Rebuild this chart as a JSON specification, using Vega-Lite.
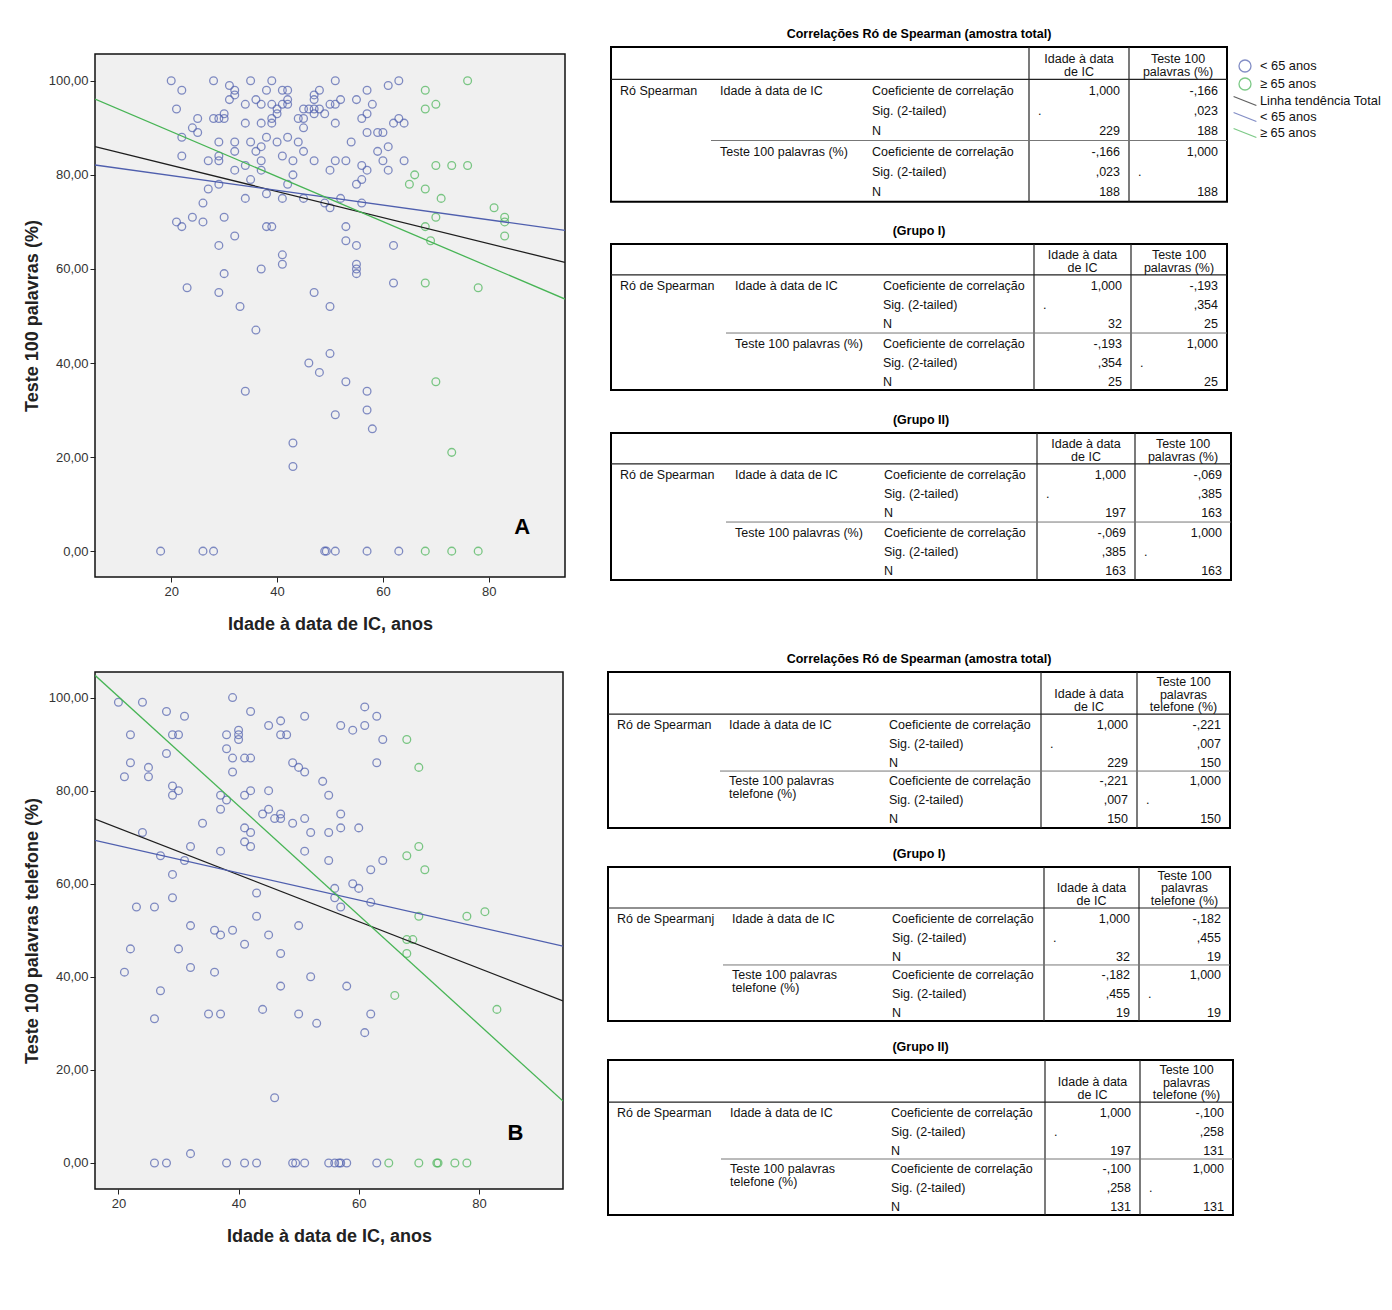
{
  "$schema": "https://vega.github.io/schema/vega-lite/v6.json",
  "background": "white",
  "padding": {"left": 22, "top": 13, "right": 5, "bottom": 5},
  "config": {
    "font": "Liberation Sans",
    "view": {"stroke": null},
    "title": {"font": "Liberation Sans", "color": "#000"},
    "axis": {"grid": false, "domain": false, "tickColor": "#222", "tickSize": 5, "labelFontSize": 13, "labelColor": "#333", "labelFont": "Liberation Sans", "titleFont": "Liberation Sans", "titleFontSize": 18, "titleFontWeight": "bold", "titleColor": "#222"}
  },
  "datasets": {
    "ptsA": [
      {"a":20,"s":100,"g":"lt65"},{"a":28,"s":100,"g":"lt65"},{"a":35,"s":100,"g":"lt65"},{"a":39,"s":100,"g":"lt65"},{"a":51,"s":100,"g":"lt65"},{"a":63,"s":100,"g":"lt65"},
      {"a":31,"s":99,"g":"lt65"},{"a":61,"s":99,"g":"lt65"},
      {"a":22,"s":98,"g":"lt65"},{"a":32,"s":98,"g":"lt65"},{"a":38,"s":98,"g":"lt65"},{"a":41,"s":98,"g":"lt65"},{"a":42,"s":98,"g":"lt65"},{"a":48,"s":98,"g":"lt65"},{"a":57,"s":98,"g":"lt65"},
      {"a":32,"s":97,"g":"lt65"},{"a":47,"s":97,"g":"lt65"},
      {"a":31,"s":96,"g":"lt65"},{"a":36,"s":96,"g":"lt65"},{"a":42,"s":96,"g":"lt65"},{"a":47,"s":96,"g":"lt65"},{"a":52,"s":96,"g":"lt65"},{"a":55,"s":96,"g":"lt65"},
      {"a":34,"s":95,"g":"lt65"},{"a":37,"s":95,"g":"lt65"},{"a":39,"s":95,"g":"lt65"},{"a":41,"s":95,"g":"lt65"},{"a":42,"s":95,"g":"lt65"},{"a":50,"s":95,"g":"lt65"},{"a":51,"s":95,"g":"lt65"},{"a":58,"s":95,"g":"lt65"},
      {"a":21,"s":94,"g":"lt65"},{"a":40,"s":94,"g":"lt65"},{"a":45,"s":94,"g":"lt65"},{"a":46,"s":94,"g":"lt65"},{"a":47,"s":94,"g":"lt65"},{"a":48,"s":94,"g":"lt65"},
      {"a":30,"s":93,"g":"lt65"},{"a":40,"s":93,"g":"lt65"},{"a":47,"s":93,"g":"lt65"},{"a":49,"s":93,"g":"lt65"},{"a":57,"s":93,"g":"lt65"},
      {"a":25,"s":92,"g":"lt65"},{"a":28,"s":92,"g":"lt65"},{"a":29,"s":92,"g":"lt65"},{"a":30,"s":92,"g":"lt65"},{"a":39,"s":92,"g":"lt65"},{"a":44,"s":92,"g":"lt65"},{"a":45,"s":92,"g":"lt65"},{"a":56,"s":92,"g":"lt65"},{"a":63,"s":92,"g":"lt65"},
      {"a":34,"s":91,"g":"lt65"},{"a":37,"s":91,"g":"lt65"},{"a":39,"s":91,"g":"lt65"},{"a":51,"s":91,"g":"lt65"},{"a":62,"s":91,"g":"lt65"},{"a":64,"s":91,"g":"lt65"},
      {"a":24,"s":90,"g":"lt65"},{"a":45,"s":90,"g":"lt65"},
      {"a":25,"s":89,"g":"lt65"},{"a":57,"s":89,"g":"lt65"},{"a":59,"s":89,"g":"lt65"},{"a":60,"s":89,"g":"lt65"},
      {"a":22,"s":88,"g":"lt65"},{"a":38,"s":88,"g":"lt65"},{"a":42,"s":88,"g":"lt65"},
      {"a":29,"s":87,"g":"lt65"},{"a":32,"s":87,"g":"lt65"},{"a":35,"s":87,"g":"lt65"},{"a":40,"s":87,"g":"lt65"},{"a":44,"s":87,"g":"lt65"},{"a":54,"s":87,"g":"lt65"},
      {"a":37,"s":86,"g":"lt65"},{"a":61,"s":86,"g":"lt65"},
      {"a":32,"s":85,"g":"lt65"},{"a":36,"s":85,"g":"lt65"},{"a":45,"s":85,"g":"lt65"},{"a":59,"s":85,"g":"lt65"},
      {"a":22,"s":84,"g":"lt65"},{"a":29,"s":84,"g":"lt65"},{"a":41,"s":84,"g":"lt65"},
      {"a":27,"s":83,"g":"lt65"},{"a":29,"s":83,"g":"lt65"},{"a":37,"s":83,"g":"lt65"},{"a":43,"s":83,"g":"lt65"},{"a":47,"s":83,"g":"lt65"},{"a":51,"s":83,"g":"lt65"},{"a":53,"s":83,"g":"lt65"},{"a":60,"s":83,"g":"lt65"},{"a":64,"s":83,"g":"lt65"},
      {"a":34,"s":82,"g":"lt65"},{"a":56,"s":82,"g":"lt65"},
      {"a":32,"s":81,"g":"lt65"},{"a":37,"s":81,"g":"lt65"},{"a":50,"s":81,"g":"lt65"},{"a":57,"s":81,"g":"lt65"},{"a":61,"s":81,"g":"lt65"},
      {"a":43,"s":80,"g":"lt65"},
      {"a":35,"s":79,"g":"lt65"},{"a":56,"s":79,"g":"lt65"},
      {"a":29,"s":78,"g":"lt65"},{"a":42,"s":78,"g":"lt65"},{"a":55,"s":78,"g":"lt65"},
      {"a":27,"s":77,"g":"lt65"},{"a":38,"s":76,"g":"lt65"},
      {"a":34,"s":75,"g":"lt65"},{"a":41,"s":75,"g":"lt65"},{"a":45,"s":75,"g":"lt65"},{"a":52,"s":75,"g":"lt65"},
      {"a":26,"s":74,"g":"lt65"},{"a":49,"s":74,"g":"lt65"},{"a":56,"s":74,"g":"lt65"},
      {"a":50,"s":73,"g":"lt65"},
      {"a":24,"s":71,"g":"lt65"},{"a":30,"s":71,"g":"lt65"},
      {"a":21,"s":70,"g":"lt65"},{"a":26,"s":70,"g":"lt65"},
      {"a":22,"s":69,"g":"lt65"},{"a":38,"s":69,"g":"lt65"},{"a":39,"s":69,"g":"lt65"},{"a":53,"s":69,"g":"lt65"},
      {"a":32,"s":67,"g":"lt65"},{"a":53,"s":66,"g":"lt65"},
      {"a":29,"s":65,"g":"lt65"},{"a":55,"s":65,"g":"lt65"},{"a":62,"s":65,"g":"lt65"},
      {"a":41,"s":63,"g":"lt65"},{"a":41,"s":61,"g":"lt65"},{"a":55,"s":61,"g":"lt65"},{"a":37,"s":60,"g":"lt65"},{"a":55,"s":60,"g":"lt65"},{"a":30,"s":59,"g":"lt65"},{"a":55,"s":59,"g":"lt65"},
      {"a":62,"s":57,"g":"lt65"},{"a":23,"s":56,"g":"lt65"},{"a":29,"s":55,"g":"lt65"},{"a":47,"s":55,"g":"lt65"},{"a":33,"s":52,"g":"lt65"},{"a":50,"s":52,"g":"lt65"},
      {"a":36,"s":47,"g":"lt65"},{"a":50,"s":42,"g":"lt65"},{"a":46,"s":40,"g":"lt65"},{"a":48,"s":38,"g":"lt65"},{"a":53,"s":36,"g":"lt65"},{"a":34,"s":34,"g":"lt65"},{"a":57,"s":34,"g":"lt65"},{"a":57,"s":30,"g":"lt65"},{"a":51,"s":29,"g":"lt65"},{"a":58,"s":26,"g":"lt65"},{"a":43,"s":23,"g":"lt65"},{"a":43,"s":18,"g":"lt65"},
      {"a":18,"s":0,"g":"lt65"},{"a":26,"s":0,"g":"lt65"},{"a":28,"s":0,"g":"lt65"},{"a":49,"s":0,"g":"lt65"},{"a":49.3,"s":0,"g":"lt65"},{"a":51,"s":0,"g":"lt65"},{"a":57,"s":0,"g":"lt65"},{"a":63,"s":0,"g":"lt65"},
      {"a":76,"s":100,"g":"ge65"},{"a":68,"s":98,"g":"ge65"},{"a":70,"s":95,"g":"ge65"},{"a":68,"s":94,"g":"ge65"},{"a":70,"s":82,"g":"ge65"},{"a":73,"s":82,"g":"ge65"},{"a":76,"s":82,"g":"ge65"},{"a":66,"s":80,"g":"ge65"},{"a":65,"s":78,"g":"ge65"},{"a":68,"s":77,"g":"ge65"},{"a":71,"s":75,"g":"ge65"},{"a":81,"s":73,"g":"ge65"},{"a":70,"s":71,"g":"ge65"},{"a":83,"s":71,"g":"ge65"},{"a":83,"s":70,"g":"ge65"},{"a":68,"s":69,"g":"ge65"},{"a":83,"s":67,"g":"ge65"},{"a":69,"s":66,"g":"ge65"},{"a":68,"s":57,"g":"ge65"},{"a":78,"s":56,"g":"ge65"},{"a":70,"s":36,"g":"ge65"},{"a":73,"s":21,"g":"ge65"},{"a":68,"s":0,"g":"ge65"},{"a":73,"s":0,"g":"ge65"},{"a":78,"s":0,"g":"ge65"}
    ],
    "ptsB": [
      {"a":39,"s":100,"g":"lt65"},{"a":20,"s":99,"g":"lt65"},{"a":24,"s":99,"g":"lt65"},{"a":61,"s":98,"g":"lt65"},{"a":28,"s":97,"g":"lt65"},{"a":42,"s":97,"g":"lt65"},{"a":31,"s":96,"g":"lt65"},{"a":51,"s":96,"g":"lt65"},{"a":63,"s":96,"g":"lt65"},{"a":47,"s":95,"g":"lt65"},{"a":45,"s":94,"g":"lt65"},{"a":57,"s":94,"g":"lt65"},{"a":61,"s":94,"g":"lt65"},{"a":40,"s":93,"g":"lt65"},{"a":59,"s":93,"g":"lt65"},
      {"a":22,"s":92,"g":"lt65"},{"a":29,"s":92,"g":"lt65"},{"a":30,"s":92,"g":"lt65"},{"a":38,"s":92,"g":"lt65"},{"a":40,"s":92,"g":"lt65"},{"a":47,"s":92,"g":"lt65"},{"a":48,"s":92,"g":"lt65"},{"a":40,"s":91,"g":"lt65"},{"a":64,"s":91,"g":"lt65"},
      {"a":38,"s":89,"g":"lt65"},{"a":28,"s":88,"g":"lt65"},{"a":39,"s":87,"g":"lt65"},{"a":41,"s":87,"g":"lt65"},{"a":42,"s":87,"g":"lt65"},{"a":22,"s":86,"g":"lt65"},{"a":49,"s":86,"g":"lt65"},{"a":63,"s":86,"g":"lt65"},{"a":25,"s":85,"g":"lt65"},{"a":50,"s":85,"g":"lt65"},{"a":39,"s":84,"g":"lt65"},{"a":51,"s":84,"g":"lt65"},{"a":21,"s":83,"g":"lt65"},{"a":25,"s":83,"g":"lt65"},{"a":54,"s":82,"g":"lt65"},{"a":29,"s":81,"g":"lt65"},
      {"a":30,"s":80,"g":"lt65"},{"a":42,"s":80,"g":"lt65"},{"a":45,"s":80,"g":"lt65"},{"a":29,"s":79,"g":"lt65"},{"a":37,"s":79,"g":"lt65"},{"a":41,"s":79,"g":"lt65"},{"a":55,"s":79,"g":"lt65"},{"a":38,"s":78,"g":"lt65"},{"a":37,"s":76,"g":"lt65"},{"a":45,"s":76,"g":"lt65"},
      {"a":44,"s":75,"g":"lt65"},{"a":47,"s":75,"g":"lt65"},{"a":57,"s":75,"g":"lt65"},{"a":46,"s":74,"g":"lt65"},{"a":47,"s":74,"g":"lt65"},{"a":51,"s":74,"g":"lt65"},{"a":34,"s":73,"g":"lt65"},{"a":49,"s":73,"g":"lt65"},{"a":41,"s":72,"g":"lt65"},{"a":57,"s":72,"g":"lt65"},{"a":60,"s":72,"g":"lt65"},{"a":24,"s":71,"g":"lt65"},{"a":42,"s":71,"g":"lt65"},{"a":52,"s":71,"g":"lt65"},{"a":55,"s":71,"g":"lt65"},
      {"a":41,"s":69,"g":"lt65"},{"a":32,"s":68,"g":"lt65"},{"a":42,"s":68,"g":"lt65"},{"a":37,"s":67,"g":"lt65"},{"a":51,"s":67,"g":"lt65"},{"a":27,"s":66,"g":"lt65"},{"a":31,"s":65,"g":"lt65"},{"a":55,"s":65,"g":"lt65"},{"a":64,"s":65,"g":"lt65"},{"a":62,"s":63,"g":"lt65"},{"a":29,"s":62,"g":"lt65"},{"a":59,"s":60,"g":"lt65"},{"a":56,"s":59,"g":"lt65"},{"a":60,"s":59,"g":"lt65"},{"a":43,"s":58,"g":"lt65"},{"a":29,"s":57,"g":"lt65"},{"a":56,"s":57,"g":"lt65"},{"a":62,"s":56,"g":"lt65"},{"a":57,"s":55,"g":"lt65"},{"a":23,"s":55,"g":"lt65"},{"a":26,"s":55,"g":"lt65"},{"a":43,"s":53,"g":"lt65"},{"a":32,"s":51,"g":"lt65"},{"a":50,"s":51,"g":"lt65"},{"a":36,"s":50,"g":"lt65"},{"a":39,"s":50,"g":"lt65"},{"a":37,"s":49,"g":"lt65"},{"a":45,"s":49,"g":"lt65"},{"a":41,"s":47,"g":"lt65"},{"a":22,"s":46,"g":"lt65"},{"a":30,"s":46,"g":"lt65"},{"a":47,"s":45,"g":"lt65"},{"a":32,"s":42,"g":"lt65"},{"a":21,"s":41,"g":"lt65"},{"a":36,"s":41,"g":"lt65"},{"a":52,"s":40,"g":"lt65"},{"a":47,"s":38,"g":"lt65"},{"a":58,"s":38,"g":"lt65"},{"a":27,"s":37,"g":"lt65"},{"a":44,"s":33,"g":"lt65"},{"a":35,"s":32,"g":"lt65"},{"a":37,"s":32,"g":"lt65"},{"a":50,"s":32,"g":"lt65"},{"a":62,"s":32,"g":"lt65"},{"a":26,"s":31,"g":"lt65"},{"a":53,"s":30,"g":"lt65"},{"a":61,"s":28,"g":"lt65"},{"a":46,"s":14,"g":"lt65"},{"a":32,"s":2,"g":"lt65"},
      {"a":26,"s":0,"g":"lt65"},{"a":28,"s":0,"g":"lt65"},{"a":38,"s":0,"g":"lt65"},{"a":41,"s":0,"g":"lt65"},{"a":43,"s":0,"g":"lt65"},{"a":49,"s":0,"g":"lt65"},{"a":49.5,"s":0,"g":"lt65"},{"a":51,"s":0,"g":"lt65"},{"a":55,"s":0,"g":"lt65"},{"a":56,"s":0,"g":"lt65"},{"a":56.7,"s":0,"g":"lt65"},{"a":57,"s":0,"g":"lt65"},{"a":58,"s":0,"g":"lt65"},{"a":63,"s":0,"g":"lt65"},
      {"a":68,"s":91,"g":"ge65"},{"a":70,"s":85,"g":"ge65"},{"a":70,"s":68,"g":"ge65"},{"a":68,"s":66,"g":"ge65"},{"a":71,"s":63,"g":"ge65"},{"a":81,"s":54,"g":"ge65"},{"a":78,"s":53,"g":"ge65"},{"a":70,"s":53,"g":"ge65"},{"a":68,"s":48,"g":"ge65"},{"a":69,"s":48,"g":"ge65"},{"a":68,"s":45,"g":"ge65"},{"a":66,"s":36,"g":"ge65"},{"a":83,"s":33,"g":"ge65"},{"a":65,"s":0,"g":"ge65"},{"a":70,"s":0,"g":"ge65"},{"a":73,"s":0,"g":"ge65"},{"a":73.2,"s":0,"g":"ge65"},{"a":76,"s":0,"g":"ge65"},{"a":78,"s":0,"g":"ge65"}
    ],
    "fitA": [
      {"a":5.6,"s":86.0,"g":"total"},{"a":94.4,"s":61.4,"g":"total"},
      {"a":5.6,"s":82.1,"g":"lt65"},{"a":94.4,"s":68.2,"g":"lt65"},
      {"a":5.6,"s":96.1,"g":"ge65"},{"a":94.4,"s":53.6,"g":"ge65"}
    ],
    "fitB": [
      {"a":16.1,"s":73.9,"g":"total"},{"a":94,"s":34.8,"g":"total"},
      {"a":16.1,"s":69.3,"g":"lt65"},{"a":94,"s":46.6,"g":"lt65"},
      {"a":16.1,"s":104.8,"g":"ge65"},{"a":94,"s":13.3,"g":"ge65"}
    ],
    "labA": [{"a":86.3,"s":5.1,"t":"A"}],
    "labB": [{"a":86.1,"s":6.5,"t":"B"}],
    "vl": [{"c":3},{"c":4}],
    "vl1": [{"c":3,"r":-1.13,"r2":6.53},{"c":4,"r":-1.13,"r2":6.53}],
    "hl": [{"r":0.47}],
    "dl": [{"c":1,"c2":5,"r":3.5}],
    "box1": [{"c":0,"c2":5,"r":-1.13,"r2":6.53}],
    "leg": [{"k":"p1"},{"k":"p2"},{"k":"l0"},{"k":"l1"},{"k":"l2"}],
    "cells": [
      {"tb":"C","k":"H","c":3.5,"r":0.47,"t":"Idade à data\nde IC"},
      {"tb":"C","k":"L","c":1,"r":1,"t":"Idade à data de IC"},
      {"tb":"C","k":"L","c":2,"r":1,"t":"Coeficiente de correlação"},
      {"tb":"C","k":"L","c":2,"r":2,"t":"Sig. (2-tailed)"},
      {"tb":"C","k":"L","c":2,"r":3,"t":"N"},
      {"tb":"C","k":"L","c":2,"r":4,"t":"Coeficiente de correlação"},
      {"tb":"C","k":"L","c":2,"r":5,"t":"Sig. (2-tailed)"},
      {"tb":"C","k":"L","c":2,"r":6,"t":"N"},
      {"tb":"C","k":"L","c":3,"r":2,"t":"."},
      {"tb":"C","k":"L","c":4,"r":5,"t":"."},
      {"tb":"A","k":"H","c":4.5,"r":0.47,"t":"Teste 100\npalavras (%)"},
      {"tb":"A","k":"L","c":1,"r":4,"t":"Teste 100 palavras (%)"},
      {"tb":"B","k":"H3","c":4.5,"r":0.47,"t":"Teste 100\npalavras\ntelefone (%)"},
      {"tb":"B","k":"L","c":1,"r":4,"t":"Teste 100 palavras\ntelefone (%)"},
      {"tb":"T1","k":"L","c":0,"r":1,"t":"Ró Spearman"},
      {"tb":"T1","k":"R","c":4,"r":1,"t":"1,000"},{"tb":"T1","k":"R","c":5,"r":1,"t":"-,166"},
      {"tb":"T1","k":"R","c":5,"r":2,"t":",023"},
      {"tb":"T1","k":"R","c":4,"r":3,"t":"229"},{"tb":"T1","k":"R","c":5,"r":3,"t":"188"},
      {"tb":"T1","k":"R","c":4,"r":4,"t":"-,166"},{"tb":"T1","k":"R","c":5,"r":4,"t":"1,000"},
      {"tb":"T1","k":"R","c":4,"r":5,"t":",023"},
      {"tb":"T1","k":"R","c":4,"r":6,"t":"188"},{"tb":"T1","k":"R","c":5,"r":6,"t":"188"},
      {"tb":"T2","k":"L","c":0,"r":1,"t":"Ró de Spearman"},
      {"tb":"T2","k":"R","c":4,"r":1,"t":"1,000"},{"tb":"T2","k":"R","c":5,"r":1,"t":"-,193"},
      {"tb":"T2","k":"R","c":5,"r":2,"t":",354"},
      {"tb":"T2","k":"R","c":4,"r":3,"t":"32"},{"tb":"T2","k":"R","c":5,"r":3,"t":"25"},
      {"tb":"T2","k":"R","c":4,"r":4,"t":"-,193"},{"tb":"T2","k":"R","c":5,"r":4,"t":"1,000"},
      {"tb":"T2","k":"R","c":4,"r":5,"t":",354"},
      {"tb":"T2","k":"R","c":4,"r":6,"t":"25"},{"tb":"T2","k":"R","c":5,"r":6,"t":"25"},
      {"tb":"T3","k":"L","c":0,"r":1,"t":"Ró de Spearman"},
      {"tb":"T3","k":"R","c":4,"r":1,"t":"1,000"},{"tb":"T3","k":"R","c":5,"r":1,"t":"-,069"},
      {"tb":"T3","k":"R","c":5,"r":2,"t":",385"},
      {"tb":"T3","k":"R","c":4,"r":3,"t":"197"},{"tb":"T3","k":"R","c":5,"r":3,"t":"163"},
      {"tb":"T3","k":"R","c":4,"r":4,"t":"-,069"},{"tb":"T3","k":"R","c":5,"r":4,"t":"1,000"},
      {"tb":"T3","k":"R","c":4,"r":5,"t":",385"},
      {"tb":"T3","k":"R","c":4,"r":6,"t":"163"},{"tb":"T3","k":"R","c":5,"r":6,"t":"163"},
      {"tb":"T4","k":"L","c":0,"r":1,"t":"Ró de Spearman"},
      {"tb":"T4","k":"R","c":4,"r":1,"t":"1,000"},{"tb":"T4","k":"R","c":5,"r":1,"t":"-,221"},
      {"tb":"T4","k":"R","c":5,"r":2,"t":",007"},
      {"tb":"T4","k":"R","c":4,"r":3,"t":"229"},{"tb":"T4","k":"R","c":5,"r":3,"t":"150"},
      {"tb":"T4","k":"R","c":4,"r":4,"t":"-,221"},{"tb":"T4","k":"R","c":5,"r":4,"t":"1,000"},
      {"tb":"T4","k":"R","c":4,"r":5,"t":",007"},
      {"tb":"T4","k":"R","c":4,"r":6,"t":"150"},{"tb":"T4","k":"R","c":5,"r":6,"t":"150"},
      {"tb":"T5","k":"L","c":0,"r":1,"t":"Ró de Spearmanj"},
      {"tb":"T5","k":"R","c":4,"r":1,"t":"1,000"},{"tb":"T5","k":"R","c":5,"r":1,"t":"-,182"},
      {"tb":"T5","k":"R","c":5,"r":2,"t":",455"},
      {"tb":"T5","k":"R","c":4,"r":3,"t":"32"},{"tb":"T5","k":"R","c":5,"r":3,"t":"19"},
      {"tb":"T5","k":"R","c":4,"r":4,"t":"-,182"},{"tb":"T5","k":"R","c":5,"r":4,"t":"1,000"},
      {"tb":"T5","k":"R","c":4,"r":5,"t":",455"},
      {"tb":"T5","k":"R","c":4,"r":6,"t":"19"},{"tb":"T5","k":"R","c":5,"r":6,"t":"19"},
      {"tb":"T6","k":"L","c":0,"r":1,"t":"Ró de Spearman"},
      {"tb":"T6","k":"R","c":4,"r":1,"t":"1,000"},{"tb":"T6","k":"R","c":5,"r":1,"t":"-,100"},
      {"tb":"T6","k":"R","c":5,"r":2,"t":",258"},
      {"tb":"T6","k":"R","c":4,"r":3,"t":"197"},{"tb":"T6","k":"R","c":5,"r":3,"t":"131"},
      {"tb":"T6","k":"R","c":4,"r":4,"t":"-,100"},{"tb":"T6","k":"R","c":5,"r":4,"t":"1,000"},
      {"tb":"T6","k":"R","c":4,"r":5,"t":",258"},
      {"tb":"T6","k":"R","c":4,"r":6,"t":"131"},{"tb":"T6","k":"R","c":5,"r":6,"t":"131"}
    ]
  },
  "resolve": {"scale": {"color": "independent", "shape": "independent"}, "legend": {"color": "independent", "shape": "independent"}},
  "spacing": 17,
  "vconcat": [
    {
      "spacing": 43,
      "resolve": {"scale": {"color": "independent", "shape": "independent"}, "legend": {"color": "independent", "shape": "independent"}},
      "hconcat": [
        {
          "width": 470, "height": 523,
          "title": {"text": " ", "fontSize": 10, "offset": 30},
          "view": {"fill": "#f0f0f0", "stroke": "#111", "strokeWidth": 1.5},
          "layer": [
            {"data": {"name": "ptsA"}, "mark": {"type": "point", "filled": false, "size": 60, "strokeWidth": 1.3},
             "encoding": {
               "x": {"field": "a", "type": "quantitative", "title": "Idade à data de IC, anos", "scale": {"domain": [5.6, 94.4], "nice": false, "zero": false}, "axis": {"values": [20, 40, 60, 80], "titlePadding": 17, "labelPadding": 3}},
               "y": {"field": "s", "type": "quantitative", "title": "Teste 100 palavras (%)", "scale": {"domain": [-5.5, 105.7], "nice": false, "zero": false}, "axis": {"values": [0, 20, 40, 60, 80, 100], "labelExpr": "replace(format(datum.value, '.2f'), '.', ',')", "titlePadding": 7, "labelPadding": 2}},
               "color": {"field": "g", "type": "nominal", "scale": {"domain": ["lt65", "ge65", "total"], "range": ["#4f5fae", "#47b455", "#1e1e1e"]}, "legend": null}
             }},
            {"data": {"name": "fitA"}, "mark": {"type": "line", "strokeWidth": 1.3, "clip": true},
             "encoding": {
               "x": {"field": "a", "type": "quantitative", "title": "Idade à data de IC, anos"},
               "y": {"field": "s", "type": "quantitative", "title": "Teste 100 palavras (%)"},
               "color": {"field": "g", "type": "nominal", "scale": {"domain": ["lt65", "ge65", "total"], "range": ["#4f5fae", "#47b455", "#1e1e1e"]}, "legend": null}
             }},
            {"data": {"name": "labA"}, "mark": {"type": "text", "fontSize": 22, "fontWeight": "bold", "font": "Liberation Sans", "color": "#000"},
             "encoding": {
               "x": {"field": "a", "type": "quantitative", "title": "Idade à data de IC, anos"},
               "y": {"field": "s", "type": "quantitative", "title": "Teste 100 palavras (%)"},
               "text": {"field": "t"}
             }}
          ]
        },
        {
          "spacing": 20,
          "resolve": {"scale": {"color": "independent", "shape": "independent"}, "legend": {"color": "independent", "shape": "independent"}},
          "vconcat": [
            {
              "width": 616, "height": 148,
              "title": {"text": "Correlações Ró de Spearman (amostra total)", "fontSize": 12.5, "fontWeight": "bold", "offset": 5, "anchor": "middle"},
              "layer": [
                {"data": {"name": "box1"}, "mark": {"type": "rect", "fill": "#fff", "stroke": "#000", "strokeWidth": 2},
                 "encoding": {"x": {"field": "c", "type": "quantitative", "scale": {"domain": [0,1,2,3,4,5], "range": [0,100,252,418,518,616], "nice": false, "zero": false}, "axis": null}, "x2": {"field": "c2"},
                   "y": {"field": "r", "type": "quantitative", "scale": {"domain": [-0.783, 6.544], "nice": false, "zero": false, "reverse": true}, "axis": null}, "y2": {"field": "r2"}}},
                {"data": {"name": "vl1"}, "mark": {"type": "rule", "color": "#222", "strokeWidth": 1.2},
                 "encoding": {"x": {"field": "c", "type": "quantitative", "axis": null}, "y": {"field": "r", "type": "quantitative", "axis": null}, "y2": {"field": "r2"}}},
                {"data": {"name": "hl"}, "mark": {"type": "rule", "color": "#222", "strokeWidth": 1.2},
                 "encoding": {"y": {"field": "r", "type": "quantitative", "axis": null}}},
                {"data": {"name": "dl"}, "mark": {"type": "rule", "color": "#777", "strokeWidth": 1},
                 "encoding": {"x": {"field": "c", "type": "quantitative", "axis": null}, "x2": {"field": "c2"}, "y": {"field": "r", "type": "quantitative", "axis": null}}},
                {"data": {"name": "cells"}, "transform": [{"filter": "(datum.tb == 'C' || datum.tb == 'A' || datum.tb == 'T1') && datum.k == 'L'"}],
                 "mark": {"type": "text", "align": "left", "baseline": "top", "dx": 9, "dy": -5, "fontSize": 12.5, "lineHeight": 13, "lineBreak": "\n", "color": "#111"},
                 "encoding": {"x": {"field": "c", "type": "quantitative", "axis": null}, "y": {"field": "r", "type": "quantitative", "axis": null}, "text": {"field": "t"}}},
                {"data": {"name": "cells"}, "transform": [{"filter": "datum.tb == 'T1' && datum.k == 'R'"}],
                 "mark": {"type": "text", "align": "right", "baseline": "top", "dx": -9, "dy": -5, "fontSize": 12.5, "color": "#111"},
                 "encoding": {"x": {"field": "c", "type": "quantitative", "axis": null}, "y": {"field": "r", "type": "quantitative", "axis": null}, "text": {"field": "t"}}},
                {"data": {"name": "cells"}, "transform": [{"filter": "(datum.tb == 'C' || datum.tb == 'A') && datum.k == 'H'"}],
                 "mark": {"type": "text", "align": "center", "baseline": "top", "dy": -26, "fontSize": 12.5, "lineHeight": 13, "lineBreak": "\n", "color": "#111"},
                 "encoding": {"x": {"field": "c", "type": "quantitative", "axis": null}, "y": {"field": "r", "type": "quantitative", "axis": null}, "text": {"field": "t"}}},
                {"data": {"name": "leg"}, "transform": [{"filter": "datum.k == 'none'"}],
                 "mark": {"type": "point", "filled": false, "strokeWidth": 1.3},
                 "encoding": {
                   "shape": {"field": "k", "type": "nominal", "scale": {"domain": ["p1","p2","l0","l1","l2"], "range": ["circle","circle","M-1.9,-0.75L1.9,0.75","M-1.9,-0.75L1.9,0.75","M-1.9,-0.75L1.9,0.75"]},
                     "legend": {"orient": "none", "legendX": 627, "legendY": 5, "title": null, "padding": 0, "symbolSize": 144, "symbolStrokeWidth": 1.3, "labelFontSize": 12.8, "labelFont": "Liberation Sans", "labelColor": "#111", "rowPadding": 0, "labelOffset": 8, "labelLimit": 200,
                       "labelExpr": "datum.value == 'l0' ? 'Linha tendência Total' : (datum.value == 'p1' || datum.value == 'l1') ? '< 65 anos' : '≥ 65 anos'"}},
                   "color": {"field": "k", "type": "nominal", "scale": {"domain": ["p1","p2","l0","l1","l2"], "range": ["#4f5fae","#47b455","#1e1e1e","#4f5fae","#47b455"]},
                     "legend": {"orient": "none", "legendX": 627, "legendY": 5, "title": null, "padding": 0, "symbolSize": 144, "symbolStrokeWidth": 1.3, "labelFontSize": 12.8, "labelFont": "Liberation Sans", "labelColor": "#111", "rowPadding": 0, "labelOffset": 8, "labelLimit": 200,
                       "labelExpr": "datum.value == 'l0' ? 'Linha tendência Total' : (datum.value == 'p1' || datum.value == 'l1') ? '< 65 anos' : '≥ 65 anos'"}}
                 }}
              ]
            },
            {
              "width": 616, "height": 146,
              "title": {"text": "(Grupo I)", "fontSize": 12.5, "fontWeight": "bold", "offset": 6, "anchor": "middle"},
              "view": {"stroke": "#000", "strokeWidth": 2, "fill": "#fff"},
              "layer": [
                {"data": {"name": "vl"}, "mark": {"type": "rule", "color": "#222", "strokeWidth": 1.2},
                 "encoding": {"x": {"field": "c", "type": "quantitative", "scale": {"domain": [0,1,2,3,4,5], "range": [0,115,263,423,520,616], "nice": false, "zero": false}, "axis": null}}},
                {"data": {"name": "hl"}, "mark": {"type": "rule", "color": "#222", "strokeWidth": 1.2},
                 "encoding": {"y": {"field": "r", "type": "quantitative", "scale": {"domain": [-1.14, 6.47], "nice": false, "zero": false, "reverse": true}, "axis": null}}},
                {"data": {"name": "dl"}, "mark": {"type": "rule", "color": "#777", "strokeWidth": 1},
                 "encoding": {"x": {"field": "c", "type": "quantitative", "axis": null}, "x2": {"field": "c2"}, "y": {"field": "r", "type": "quantitative", "axis": null}}},
                {"data": {"name": "cells"}, "transform": [{"filter": "(datum.tb == 'C' || datum.tb == 'A' || datum.tb == 'T2') && datum.k == 'L'"}],
                 "mark": {"type": "text", "align": "left", "baseline": "top", "dx": 9, "dy": -5, "fontSize": 12.5, "lineHeight": 13, "lineBreak": "\n", "color": "#111"},
                 "encoding": {"x": {"field": "c", "type": "quantitative", "axis": null}, "y": {"field": "r", "type": "quantitative", "axis": null}, "text": {"field": "t"}}},
                {"data": {"name": "cells"}, "transform": [{"filter": "datum.tb == 'T2' && datum.k == 'R'"}],
                 "mark": {"type": "text", "align": "right", "baseline": "top", "dx": -9, "dy": -5, "fontSize": 12.5, "color": "#111"},
                 "encoding": {"x": {"field": "c", "type": "quantitative", "axis": null}, "y": {"field": "r", "type": "quantitative", "axis": null}, "text": {"field": "t"}}},
                {"data": {"name": "cells"}, "transform": [{"filter": "(datum.tb == 'C' || datum.tb == 'A') && datum.k == 'H'"}],
                 "mark": {"type": "text", "align": "center", "baseline": "top", "dy": -26, "fontSize": 12.5, "lineHeight": 13, "lineBreak": "\n", "color": "#111"},
                 "encoding": {"x": {"field": "c", "type": "quantitative", "axis": null}, "y": {"field": "r", "type": "quantitative", "axis": null}, "text": {"field": "t"}}}
              ]
            },
            {
              "width": 620, "height": 147,
              "title": {"text": "(Grupo II)", "fontSize": 12.5, "fontWeight": "bold", "offset": 6, "anchor": "middle"},
              "view": {"stroke": "#000", "strokeWidth": 2, "fill": "#fff"},
              "layer": [
                {"data": {"name": "vl"}, "mark": {"type": "rule", "color": "#222", "strokeWidth": 1.2},
                 "encoding": {"x": {"field": "c", "type": "quantitative", "scale": {"domain": [0,1,2,3,4,5], "range": [0,115,264,426,524,620], "nice": false, "zero": false}, "axis": null}}},
                {"data": {"name": "hl"}, "mark": {"type": "rule", "color": "#222", "strokeWidth": 1.2},
                 "encoding": {"y": {"field": "r", "type": "quantitative", "scale": {"domain": [-1.14, 6.52], "nice": false, "zero": false, "reverse": true}, "axis": null}}},
                {"data": {"name": "dl"}, "mark": {"type": "rule", "color": "#777", "strokeWidth": 1},
                 "encoding": {"x": {"field": "c", "type": "quantitative", "axis": null}, "x2": {"field": "c2"}, "y": {"field": "r", "type": "quantitative", "axis": null}}},
                {"data": {"name": "cells"}, "transform": [{"filter": "(datum.tb == 'C' || datum.tb == 'A' || datum.tb == 'T3') && datum.k == 'L'"}],
                 "mark": {"type": "text", "align": "left", "baseline": "top", "dx": 9, "dy": -5, "fontSize": 12.5, "lineHeight": 13, "lineBreak": "\n", "color": "#111"},
                 "encoding": {"x": {"field": "c", "type": "quantitative", "axis": null}, "y": {"field": "r", "type": "quantitative", "axis": null}, "text": {"field": "t"}}},
                {"data": {"name": "cells"}, "transform": [{"filter": "datum.tb == 'T3' && datum.k == 'R'"}],
                 "mark": {"type": "text", "align": "right", "baseline": "top", "dx": -9, "dy": -5, "fontSize": 12.5, "color": "#111"},
                 "encoding": {"x": {"field": "c", "type": "quantitative", "axis": null}, "y": {"field": "r", "type": "quantitative", "axis": null}, "text": {"field": "t"}}},
                {"data": {"name": "cells"}, "transform": [{"filter": "(datum.tb == 'C' || datum.tb == 'A') && datum.k == 'H'"}],
                 "mark": {"type": "text", "align": "center", "baseline": "top", "dy": -26, "fontSize": 12.5, "lineHeight": 13, "lineBreak": "\n", "color": "#111"},
                 "encoding": {"x": {"field": "c", "type": "quantitative", "axis": null}, "y": {"field": "r", "type": "quantitative", "axis": null}, "text": {"field": "t"}}}
              ]
            }
          ]
        }
      ]
    },
    {
      "spacing": 42,
      "resolve": {"scale": {"color": "independent", "shape": "independent"}, "legend": {"color": "independent", "shape": "independent"}},
      "hconcat": [
        {
          "width": 468, "height": 517,
          "title": {"text": " ", "fontSize": 10, "offset": 10},
          "view": {"fill": "#f0f0f0", "stroke": "#111", "strokeWidth": 1.5},
          "layer": [
            {"data": {"name": "ptsB"}, "mark": {"type": "point", "filled": false, "size": 60, "strokeWidth": 1.3},
             "encoding": {
               "x": {"field": "a", "type": "quantitative", "title": "Idade à data de IC, anos", "scale": {"domain": [16.1, 94], "nice": false, "zero": false}, "axis": {"values": [20, 40, 60, 80], "titlePadding": 17, "labelPadding": 3}},
               "y": {"field": "s", "type": "quantitative", "title": "Teste 100 palavras telefone (%)", "scale": {"domain": [-5.6, 105.5], "nice": false, "zero": false}, "axis": {"values": [0, 20, 40, 60, 80, 100], "labelExpr": "replace(format(datum.value, '.2f'), '.', ',')", "titlePadding": 7, "labelPadding": 2}},
               "color": {"field": "g", "type": "nominal", "scale": {"domain": ["lt65", "ge65", "total"], "range": ["#4f5fae", "#47b455", "#1e1e1e"]}, "legend": null}
             }},
            {"data": {"name": "fitB"}, "mark": {"type": "line", "strokeWidth": 1.3, "clip": true},
             "encoding": {
               "x": {"field": "a", "type": "quantitative", "title": "Idade à data de IC, anos"},
               "y": {"field": "s", "type": "quantitative", "title": "Teste 100 palavras telefone (%)"},
               "color": {"field": "g", "type": "nominal", "scale": {"domain": ["lt65", "ge65", "total"], "range": ["#4f5fae", "#47b455", "#1e1e1e"]}, "legend": null}
             }},
            {"data": {"name": "labB"}, "mark": {"type": "text", "fontSize": 22, "fontWeight": "bold", "font": "Liberation Sans", "color": "#000"},
             "encoding": {
               "x": {"field": "a", "type": "quantitative", "title": "Idade à data de IC, anos"},
               "y": {"field": "s", "type": "quantitative", "title": "Teste 100 palavras telefone (%)"},
               "text": {"field": "t"}
             }}
          ]
        },
        {
          "spacing": 16,
          "vconcat": [
            {
              "width": 622, "height": 156,
              "title": {"text": "Correlações Ró de Spearman (amostra total)", "fontSize": 12.5, "fontWeight": "bold", "offset": 6, "anchor": "middle"},
              "view": {"stroke": "#000", "strokeWidth": 2, "fill": "#fff"},
              "layer": [
                {"data": {"name": "vl"}, "mark": {"type": "rule", "color": "#222", "strokeWidth": 1.2},
                 "encoding": {"x": {"field": "c", "type": "quantitative", "scale": {"domain": [0,1,2,3,4,5], "range": [0,112,272,433,529,622], "nice": false, "zero": false}, "axis": null}}},
                {"data": {"name": "hl"}, "mark": {"type": "rule", "color": "#222", "strokeWidth": 1.2},
                 "encoding": {"y": {"field": "r", "type": "quantitative", "scale": {"domain": [-1.77, 6.53], "nice": false, "zero": false, "reverse": true}, "axis": null}}},
                {"data": {"name": "dl"}, "mark": {"type": "rule", "color": "#777", "strokeWidth": 1},
                 "encoding": {"x": {"field": "c", "type": "quantitative", "axis": null}, "x2": {"field": "c2"}, "y": {"field": "r", "type": "quantitative", "axis": null}}},
                {"data": {"name": "cells"}, "transform": [{"filter": "(datum.tb == 'C' || datum.tb == 'B' || datum.tb == 'T4') && datum.k == 'L'"}],
                 "mark": {"type": "text", "align": "left", "baseline": "top", "dx": 9, "dy": -5, "fontSize": 12.5, "lineHeight": 13, "lineBreak": "\n", "color": "#111"},
                 "encoding": {"x": {"field": "c", "type": "quantitative", "axis": null}, "y": {"field": "r", "type": "quantitative", "axis": null}, "text": {"field": "t"}}},
                {"data": {"name": "cells"}, "transform": [{"filter": "datum.tb == 'T4' && datum.k == 'R'"}],
                 "mark": {"type": "text", "align": "right", "baseline": "top", "dx": -9, "dy": -5, "fontSize": 12.5, "color": "#111"},
                 "encoding": {"x": {"field": "c", "type": "quantitative", "axis": null}, "y": {"field": "r", "type": "quantitative", "axis": null}, "text": {"field": "t"}}},
                {"data": {"name": "cells"}, "transform": [{"filter": "datum.tb == 'C' && datum.k == 'H'"}],
                 "mark": {"type": "text", "align": "center", "baseline": "top", "dy": -26, "fontSize": 12.5, "lineHeight": 13, "lineBreak": "\n", "color": "#111"},
                 "encoding": {"x": {"field": "c", "type": "quantitative", "axis": null}, "y": {"field": "r", "type": "quantitative", "axis": null}, "text": {"field": "t"}}},
                {"data": {"name": "cells"}, "transform": [{"filter": "datum.tb == 'B' && datum.k == 'H3'"}],
                 "mark": {"type": "text", "align": "center", "baseline": "top", "dy": -38, "fontSize": 12.5, "lineHeight": 12.5, "lineBreak": "\n", "color": "#111"},
                 "encoding": {"x": {"field": "c", "type": "quantitative", "axis": null}, "y": {"field": "r", "type": "quantitative", "axis": null}, "text": {"field": "t"}}}
              ]
            },
            {
              "width": 622, "height": 154,
              "title": {"text": "(Grupo I)", "fontSize": 12.5, "fontWeight": "bold", "offset": 6, "anchor": "middle"},
              "view": {"stroke": "#000", "strokeWidth": 2, "fill": "#fff"},
              "layer": [
                {"data": {"name": "vl"}, "mark": {"type": "rule", "color": "#222", "strokeWidth": 1.2},
                 "encoding": {"x": {"field": "c", "type": "quantitative", "scale": {"domain": [0,1,2,3,4,5], "range": [0,115,275,436,531,622], "nice": false, "zero": false}, "axis": null}}},
                {"data": {"name": "hl"}, "mark": {"type": "rule", "color": "#222", "strokeWidth": 1.2},
                 "encoding": {"y": {"field": "r", "type": "quantitative", "scale": {"domain": [-1.71, 6.48], "nice": false, "zero": false, "reverse": true}, "axis": null}}},
                {"data": {"name": "dl"}, "mark": {"type": "rule", "color": "#777", "strokeWidth": 1},
                 "encoding": {"x": {"field": "c", "type": "quantitative", "axis": null}, "x2": {"field": "c2"}, "y": {"field": "r", "type": "quantitative", "axis": null}}},
                {"data": {"name": "cells"}, "transform": [{"filter": "(datum.tb == 'C' || datum.tb == 'B' || datum.tb == 'T5') && datum.k == 'L'"}],
                 "mark": {"type": "text", "align": "left", "baseline": "top", "dx": 9, "dy": -5, "fontSize": 12.5, "lineHeight": 13, "lineBreak": "\n", "color": "#111"},
                 "encoding": {"x": {"field": "c", "type": "quantitative", "axis": null}, "y": {"field": "r", "type": "quantitative", "axis": null}, "text": {"field": "t"}}},
                {"data": {"name": "cells"}, "transform": [{"filter": "datum.tb == 'T5' && datum.k == 'R'"}],
                 "mark": {"type": "text", "align": "right", "baseline": "top", "dx": -9, "dy": -5, "fontSize": 12.5, "color": "#111"},
                 "encoding": {"x": {"field": "c", "type": "quantitative", "axis": null}, "y": {"field": "r", "type": "quantitative", "axis": null}, "text": {"field": "t"}}},
                {"data": {"name": "cells"}, "transform": [{"filter": "datum.tb == 'C' && datum.k == 'H'"}],
                 "mark": {"type": "text", "align": "center", "baseline": "top", "dy": -26, "fontSize": 12.5, "lineHeight": 13, "lineBreak": "\n", "color": "#111"},
                 "encoding": {"x": {"field": "c", "type": "quantitative", "axis": null}, "y": {"field": "r", "type": "quantitative", "axis": null}, "text": {"field": "t"}}},
                {"data": {"name": "cells"}, "transform": [{"filter": "datum.tb == 'B' && datum.k == 'H3'"}],
                 "mark": {"type": "text", "align": "center", "baseline": "top", "dy": -38, "fontSize": 12.5, "lineHeight": 12.5, "lineBreak": "\n", "color": "#111"},
                 "encoding": {"x": {"field": "c", "type": "quantitative", "axis": null}, "y": {"field": "r", "type": "quantitative", "axis": null}, "text": {"field": "t"}}}
              ]
            },
            {
              "width": 625, "height": 155,
              "title": {"text": "(Grupo II)", "fontSize": 12.5, "fontWeight": "bold", "offset": 6, "anchor": "middle"},
              "view": {"stroke": "#000", "strokeWidth": 2, "fill": "#fff"},
              "layer": [
                {"data": {"name": "vl"}, "mark": {"type": "rule", "color": "#222", "strokeWidth": 1.2},
                 "encoding": {"x": {"field": "c", "type": "quantitative", "scale": {"domain": [0,1,2,3,4,5], "range": [0,113,274,437,532,625], "nice": false, "zero": false}, "axis": null}}},
                {"data": {"name": "hl"}, "mark": {"type": "rule", "color": "#222", "strokeWidth": 1.2},
                 "encoding": {"y": {"field": "r", "type": "quantitative", "scale": {"domain": [-1.77, 6.48], "nice": false, "zero": false, "reverse": true}, "axis": null}}},
                {"data": {"name": "dl"}, "mark": {"type": "rule", "color": "#777", "strokeWidth": 1},
                 "encoding": {"x": {"field": "c", "type": "quantitative", "axis": null}, "x2": {"field": "c2"}, "y": {"field": "r", "type": "quantitative", "axis": null}}},
                {"data": {"name": "cells"}, "transform": [{"filter": "(datum.tb == 'C' || datum.tb == 'B' || datum.tb == 'T6') && datum.k == 'L'"}],
                 "mark": {"type": "text", "align": "left", "baseline": "top", "dx": 9, "dy": -5, "fontSize": 12.5, "lineHeight": 13, "lineBreak": "\n", "color": "#111"},
                 "encoding": {"x": {"field": "c", "type": "quantitative", "axis": null}, "y": {"field": "r", "type": "quantitative", "axis": null}, "text": {"field": "t"}}},
                {"data": {"name": "cells"}, "transform": [{"filter": "datum.tb == 'T6' && datum.k == 'R'"}],
                 "mark": {"type": "text", "align": "right", "baseline": "top", "dx": -9, "dy": -5, "fontSize": 12.5, "color": "#111"},
                 "encoding": {"x": {"field": "c", "type": "quantitative", "axis": null}, "y": {"field": "r", "type": "quantitative", "axis": null}, "text": {"field": "t"}}},
                {"data": {"name": "cells"}, "transform": [{"filter": "datum.tb == 'C' && datum.k == 'H'"}],
                 "mark": {"type": "text", "align": "center", "baseline": "top", "dy": -26, "fontSize": 12.5, "lineHeight": 13, "lineBreak": "\n", "color": "#111"},
                 "encoding": {"x": {"field": "c", "type": "quantitative", "axis": null}, "y": {"field": "r", "type": "quantitative", "axis": null}, "text": {"field": "t"}}},
                {"data": {"name": "cells"}, "transform": [{"filter": "datum.tb == 'B' && datum.k == 'H3'"}],
                 "mark": {"type": "text", "align": "center", "baseline": "top", "dy": -38, "fontSize": 12.5, "lineHeight": 12.5, "lineBreak": "\n", "color": "#111"},
                 "encoding": {"x": {"field": "c", "type": "quantitative", "axis": null}, "y": {"field": "r", "type": "quantitative", "axis": null}, "text": {"field": "t"}}}
              ]
            }
          ]
        }
      ]
    }
  ]
}
